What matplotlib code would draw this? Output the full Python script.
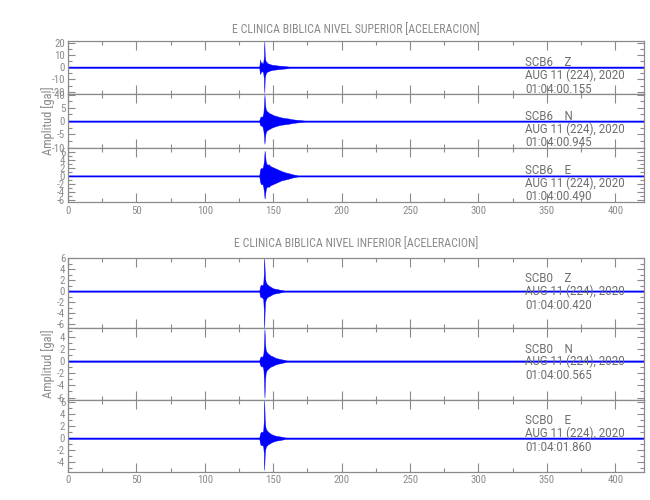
import matplotlib
matplotlib.use("Agg")
import matplotlib.pyplot as plt
from matplotlib.ticker import MultipleLocator, FixedLocator, FuncFormatter
from matplotlib import font_manager

# ---------------- data ----------------
x_max = 421
x_major = 50
x_minor = 25

titles = ["E CLINICA BIBLICA NIVEL SUPERIOR [ACELERACION]",
          "E CLINICA BIBLICA NIVEL INFERIOR [ACELERACION]"]
stations = ["SCB6", "SCB0"]
components = ["Z", "N", "E"]
date_label = "AUG 11 (224), 2020"
sup_times = ["01:04:00.155", "01:04:00.945", "01:04:00.490"]
inf_times = ["01:04:00.420", "01:04:00.565", "01:04:01.860"]
ylabel = "Amplitud [gal]"

# envelopes (time [s], upper, lower)
sup_z_t = [0, 139.8, 140.3, 140.9, 141.5, 142.1, 142.7, 143.2, 143.5, 143.8, 144.3, 145.0, 145.8, 146.7, 147.7, 148.8, 150.0, 151.5, 153.5, 156, 159, 163, 421]
sup_z_hi = [0.4, 0.4, 6.5, 3.5, 4.5, 3.0, 4.0, 9.0, 21.5, 10.0, 5.5, 4.5, 3.5, 3.0, 2.6, 2.2, 2.0, 1.8, 1.5, 1.2, 0.9, 0.4, 0.4]
sup_z_lo = [-0.4, -0.4, -5.5, -4.0, -3.5, -3.0, -4.5, -10.0, -21.0, -8.5, -6.0, -4.0, -3.5, -3.0, -2.6, -2.2, -2.0, -1.8, -1.5, -1.2, -0.9, -0.4, -0.4]

sup_n_t = [0, 139.8, 140.4, 141.2, 142.0, 142.8, 143.2, 143.6, 144.0, 144.5, 145.2, 146.0, 147.0, 148.2, 149.5, 151.0, 153.0, 155.0, 158.0, 161.0, 164.0, 168.0, 173.0, 421]
sup_n_hi = [0.2, 0.2, 1.4, 1.8, 1.6, 3.0, 6.0, 10.0, 6.5, 4.5, 3.8, 3.5, 3.0, 2.8, 2.4, 2.1, 1.8, 1.5, 1.2, 1.0, 0.7, 0.45, 0.2, 0.2]
sup_n_lo = [-0.2, -0.2, -1.5, -1.7, -1.8, -3.5, -5.5, -8.5, -6.0, -4.2, -3.6, -3.2, -3.0, -2.6, -2.3, -2.0, -1.7, -1.4, -1.2, -1.0, -0.7, -0.45, -0.2, -0.2]

sup_e_t = [0, 139.8, 140.4, 141.2, 142.0, 142.7, 143.3, 143.7, 144.1, 144.5, 145.1, 145.9, 146.7, 147.6, 148.6, 150.0, 152.0, 154.0, 156.0, 158.5, 161.0, 164.0, 168.0, 421]
sup_e_hi = [0.12, 0.12, 1.6, 2.0, 1.8, 2.5, 4.0, 6.2, 5.0, 3.6, 3.0, 2.7, 2.9, 2.5, 2.3, 2.1, 1.8, 1.5, 1.2, 0.9, 0.7, 0.4, 0.12, 0.12]
sup_e_lo = [-0.12, -0.12, -1.5, -2.1, -1.9, -2.6, -4.2, -5.6, -4.5, -3.4, -2.8, -2.6, -2.7, -2.4, -2.2, -2.0, -1.7, -1.4, -1.1, -0.9, -0.7, -0.4, -0.12, -0.12]

inf_z_t = [0, 139.8, 140.4, 141.2, 142.0, 142.7, 143.1, 143.4, 143.7, 144.1, 144.6, 145.3, 146.2, 147.3, 148.6, 150.0, 152.0, 155.0, 158.0, 421]
inf_z_hi = [0.1, 0.1, 0.9, 1.2, 1.0, 1.4, 3.0, 6.1, 4.0, 2.2, 1.6, 1.3, 1.1, 0.9, 0.7, 0.5, 0.4, 0.25, 0.1, 0.1]
inf_z_lo = [-0.1, -0.1, -1.0, -1.1, -1.2, -1.5, -3.5, -6.8, -3.8, -2.0, -1.5, -1.2, -1.0, -0.9, -0.7, -0.5, -0.4, -0.25, -0.1, -0.1]

inf_n_t = [0, 139.8, 140.4, 141.2, 142.0, 142.8, 143.2, 143.6, 144.0, 144.5, 145.2, 146.0, 147.0, 148.2, 149.5, 151.0, 153.0, 156.0, 160.0, 421]
inf_n_hi = [0.1, 0.1, 0.6, 0.8, 0.7, 1.2, 2.5, 5.3, 3.0, 1.8, 1.5, 1.3, 1.1, 0.9, 0.8, 0.6, 0.45, 0.3, 0.1, 0.1]
inf_n_lo = [-0.1, -0.1, -0.6, -0.9, -0.8, -1.3, -3.0, -6.0, -3.2, -1.9, -1.5, -1.3, -1.1, -0.9, -0.8, -0.6, -0.45, -0.3, -0.1, -0.1]

inf_e_t = [0, 139.8, 140.4, 141.2, 142.0, 142.7, 143.1, 143.4, 143.8, 144.2, 144.7, 145.4, 146.2, 147.2, 148.5, 150.0, 152.0, 155.0, 159.0, 421]
inf_e_hi = [0.1, 0.1, 0.8, 1.1, 1.0, 1.3, 3.0, 6.4, 3.2, 2.0, 1.5, 1.3, 1.1, 0.9, 0.7, 0.55, 0.4, 0.3, 0.1, 0.1]
inf_e_lo = [-0.1, -0.1, -0.9, -1.2, -1.1, -1.4, -2.5, -5.3, -2.6, -1.8, -1.4, -1.2, -1.0, -0.9, -0.7, -0.55, -0.4, -0.3, -0.1, -0.1]

# y ranges and ticks
sup_ylims = [(-22, 22), (-10.2, 10.2), (-6.5, 6.8)]
sup_yticks = [[-20, -10, 0, 10, 20], [-10, -5, 0, 5, 10], [-6, -4, -2, 0, 2, 4, 6]]
sup_yminor = [5, 2.5, 1]
inf_ylims = [(-6.8, 6.1), (-6.4, 5.4), (-5.6, 6.4)]
inf_yticks = [[-6, -4, -2, 0, 2, 4, 6], [-6, -4, -2, 0, 2, 4], [-4, -2, 0, 2, 4, 6]]
inf_yminor = [1, 1, 1]

# ---------------- style ----------------
fonts = font_manager.fontManager.ttflist
names = {f.name for f in fonts}
STRETCH = "normal"
FONT = None
for cand in ["Liberation Sans Narrow", "Roboto Condensed", "Open Sans Condensed", "Noto Sans Condensed"]:
    if cand in names:
        FONT = cand
        break
if FONT is None:
    if any(f.name == "DejaVu Sans" and f.stretch == "condensed" for f in fonts):
        FONT, STRETCH = "DejaVu Sans", "condensed"
    else:
        FONT = "Roboto" if "Roboto" in names else "DejaVu Sans"
plt.rcParams["font.family"] = [FONT, "DejaVu Sans"]
plt.rcParams["font.stretch"] = STRETCH
ANN_FONT = ["Roboto", "DejaVu Sans"] if "Roboto" in names else ["DejaVu Sans"]

GRAY = "#8a8a8a"
TXT = "#6e6e6e"
BLUE = "#0000ff"

W, H = 650, 500
fig = plt.figure(figsize=(6.5, 5), dpi=100)
left_px, right_px = 68, 644

groups = [
    dict(edges=[40.7, 94, 148.3, 202.3], title_y=30, title=titles[0], station=stations[0],
         times=sup_times, ylims=sup_ylims, yticks=sup_yticks, yminor=sup_yminor,
         data=[(sup_z_t, sup_z_hi, sup_z_lo), (sup_n_t, sup_n_hi, sup_n_lo), (sup_e_t, sup_e_hi, sup_e_lo)],
         offs=[22, 35, 48.5]),
    dict(edges=[257.7, 328.3, 400, 471.7], title_y=244, title=titles[1], station=stations[1],
         times=inf_times, ylims=inf_ylims, yticks=inf_yticks, yminor=inf_yminor,
         data=[(inf_z_t, inf_z_hi, inf_z_lo), (inf_n_t, inf_n_hi, inf_n_lo), (inf_e_t, inf_e_hi, inf_e_lo)],
         offs=[21, 33.5, 47.5]),
]

intfmt = FuncFormatter(lambda v, p: "%d" % v)

for g in groups:
    e = g["edges"]
    for i in range(3):
        top, bot = e[i], e[i + 1]
        ax = fig.add_axes([left_px / W, 1 - bot / H, (right_px - left_px) / W, (bot - top) / H])
        t, hi, lo = g["data"][i]
        ax.fill_between(t, lo, hi, color=BLUE, lw=0.3, edgecolor=BLUE)
        ax.plot([0, x_max], [0, 0], color=BLUE, lw=1.0)
        ax.set_xlim(0, x_max)
        ax.set_ylim(*g["ylims"][i])
        ax.xaxis.set_major_locator(MultipleLocator(x_major))
        ax.xaxis.set_minor_locator(MultipleLocator(x_minor))
        ax.yaxis.set_major_locator(FixedLocator(g["yticks"][i]))
        ax.yaxis.set_minor_locator(MultipleLocator(g["yminor"][i]))
        ax.tick_params(which="both", direction="in", top=True, right=True,
                       color=GRAY, labelcolor=GRAY, labelsize=7.8, width=0.8)
        ax.tick_params(which="major", length=6.5, pad=2.5)
        ax.tick_params(which="minor", length=3.2)
        ax.tick_params(axis="y", which="major", length=5, pad=2)
        ax.yaxis.set_major_formatter(intfmt)
        ax.xaxis.set_major_formatter(intfmt)
        for s in ax.spines.values():
            s.set_color(GRAY)
            s.set_linewidth(0.9)
        if i < 2:
            ax.tick_params(labelbottom=False)
        lines = [g["station"] + "    " + components[i], date_label, g["times"][i]]
        for txt, off in zip(lines, g["offs"]):
            ax.annotate(txt, xy=(334, 1), xycoords=("data", "axes fraction"),
                        xytext=(0, -off * 0.72), textcoords="offset points",
                        ha="left", va="center", fontsize=8.3, color=TXT,
                        family=ANN_FONT, fontstretch="normal")
    fig.text((left_px + right_px) / 2 / W, 1 - g["title_y"] / H, g["title"],
             ha="center", va="center", fontsize=8.6, color=GRAY)
    fig.text(48 / W, 1 - (e[1] + e[2]) / 2 / H, ylabel, rotation=90,
             ha="center", va="center", fontsize=9, color=GRAY)

fig.savefig("out.png", dpi=100)
